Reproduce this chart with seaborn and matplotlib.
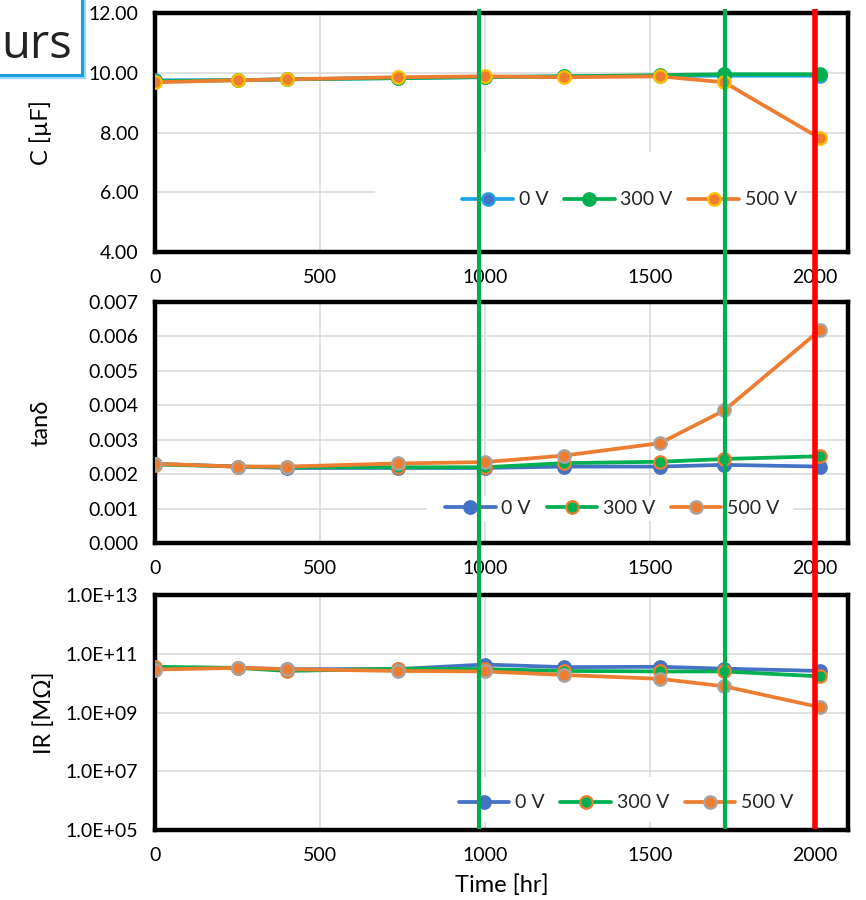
import numpy as np
import pandas as pd
import matplotlib
matplotlib.use("Agg")
import matplotlib.pyplot as plt
import matplotlib.transforms as mtransforms
from matplotlib.patches import Rectangle
from matplotlib.lines import Line2D
from matplotlib.ticker import FuncFormatter, FixedLocator
import seaborn as sns

# ---------------- data ----------------
time_hr = [0, 250, 400, 735, 1000, 1240, 1530, 1725, 2016]
series_names = ["0 V", "300 V", "500 V"]

cap_0v = [9.75, 9.75, 9.78, 9.82, 9.85, 9.88, 9.90, 9.90, 9.90]
cap_300v = [9.72, 9.75, 9.78, 9.82, 9.86, 9.88, 9.92, 9.95, 9.95]
cap_500v = [9.68, 9.75, 9.78, 9.85, 9.88, 9.85, 9.88, 9.68, 7.80]

tan_0v = [0.00230, 0.00222, 0.00218, 0.00218, 0.00218, 0.00222, 0.00222, 0.00227, 0.00222]
tan_300v = [0.00228, 0.00222, 0.00220, 0.00220, 0.00220, 0.00232, 0.00236, 0.00244, 0.00252]
tan_500v = [0.00230, 0.00222, 0.00222, 0.00231, 0.00235, 0.00254, 0.00290, 0.00385, 0.00619]

ir_0v = [3.2e10, 3.3e10, 3.0e10, 3.0e10, 4.3e10, 3.5e10, 3.6e10, 3.1e10, 2.6e10]
ir_300v = [3.6e10, 3.3e10, 2.6e10, 3.1e10, 3.0e10, 2.6e10, 2.5e10, 2.5e10, 1.7e10]
ir_500v = [2.9e10, 3.3e10, 3.0e10, 2.6e10, 2.5e10, 1.9e10, 1.4e10, 7.8e9, 1.5e9]

x_ticks = [0, 500, 1000, 1500, 2000]
cap_ticks = [4, 6, 8, 10, 12]
tan_ticks = [0.000, 0.001, 0.002, 0.003, 0.004, 0.005, 0.006, 0.007]
ir_ticks = [1e5, 1e7, 1e9, 1e11, 1e13]

marker_times = [983, 1728, 2000]
marker_colors = ["#00B050", "#00B050", "#FF0000"]
marker_widths = [3.0, 3.0, 4.0]

# ---------------- style ----------------
sns.set_theme(style="white")
plt.rcParams["font.family"] = ["Lato", "DejaVu Sans"]

fig = plt.figure(figsize=(8.66, 9.0), dpi=100)
fig.patch.set_facecolor("white")

L, R = 155 / 866, 848 / 866
def box(top_px, bot_px):
    return [L, 1 - bot_px / 900, R - L, (bot_px - top_px) / 900]

ax1 = fig.add_axes(box(13, 252))
ax2 = fig.add_axes(box(302, 543))
ax3 = fig.add_axes(box(595, 830))

styles_top = [
    dict(color="#1FA3E3", markerfacecolor="#4472C4", markeredgecolor="#1FA3E3"),
    dict(color="#00B050", markerfacecolor="#00B050", markeredgecolor="#00B050"),
    dict(color="#ED7D31", markerfacecolor="#ED7D31", markeredgecolor="#FFC000"),
]
styles_low = [
    dict(color="#4472C4", markerfacecolor="#4472C4", markeredgecolor="#4472C4"),
    dict(color="#00B050", markerfacecolor="#00B050", markeredgecolor="#ED7D31"),
    dict(color="#ED7D31", markerfacecolor="#ED7D31", markeredgecolor="#A5A5A5"),
]

panels = [
    (ax1, [cap_0v, cap_300v, cap_500v], styles_top, "C [µF]", -0.149),
    (ax2, [tan_0v, tan_300v, tan_500v], styles_low, "tanδ", -0.149),
    (ax3, [ir_0v, ir_300v, ir_500v], styles_low, "IR [MΩ]", -0.145),
]

# white legend backgrounds (axes fraction)
legend_boxes = [
    (0.317, 0.005, 0.93 - 0.317, 0.415),
    (0.393, 0.09, 0.92 - 0.393, 0.105),
    (0.41, 0.035, 0.945 - 0.41, 0.19),
]
legend_anchor = [(0.685, 0.218), (0.66, 0.145), (0.68, 0.115)]

for i, (ax, vals, styles, ylabel, lx) in enumerate(panels):
    ax.set_facecolor("white")
    for name, v, st in zip(series_names, vals, styles):
        df = pd.DataFrame({"Time": time_hr, "val": v})
        sns.lineplot(data=df, x="Time", y="val", ax=ax, label=name,
                     marker="o", markersize=9, markeredgewidth=1.6,
                     linewidth=2.7, zorder=4, **st)
    ax.set_xlim(0, 2100)
    ax.xaxis.set_major_locator(FixedLocator(x_ticks))
    ax.grid(True, which="major", color="#D9D9D9", linewidth=1.1, zorder=0)
    ax.set_axisbelow(True)
    for sp in ax.spines.values():
        sp.set_visible(True)
        sp.set_color("black")
        sp.set_linewidth(3.2)
    ax.tick_params(axis="both", which="both", length=0, labelsize=14, colors="black")
    ax.tick_params(axis="x", pad=12)
    ax.tick_params(axis="y", pad=12)
    ax.set_xlabel("")
    ax.set_ylabel(ylabel, fontsize=17, color="black")
    ax.yaxis.set_label_coords(lx, 0.5)
    bx = legend_boxes[i]
    ax.add_patch(Rectangle((bx[0], bx[1]), bx[2], bx[3], transform=ax.transAxes,
                           facecolor="white", edgecolor="none", zorder=1))
    leg = ax.legend(loc="center", bbox_to_anchor=legend_anchor[i], ncol=3,
                    frameon=False, fontsize=14, handlelength=2.6,
                    handletextpad=0.3, columnspacing=0.8, borderaxespad=0)
    leg.set_zorder(5)

ax1.set_ylim(4, 12)
ax1.yaxis.set_major_locator(FixedLocator(cap_ticks))
ax1.yaxis.set_major_formatter(FuncFormatter(lambda v, p: f"{v:.2f}"))

ax2.set_ylim(0, 0.007)
ax2.yaxis.set_major_locator(FixedLocator(tan_ticks))
ax2.yaxis.set_major_formatter(FuncFormatter(lambda v, p: f"{v:.3f}"))

ax3.set_yscale("log")
ax3.set_ylim(1e5, 1e13)
ax3.yaxis.set_major_locator(FixedLocator(ir_ticks))
ax3.yaxis.set_minor_locator(FixedLocator([]))
def sci(v, p):
    e = int(round(np.log10(v)))
    return f"1.0E+{e:02d}"
ax3.yaxis.set_major_formatter(FuncFormatter(sci))
ax3.set_xlabel("Time [hr]", fontsize=17, color="black")
ax3.xaxis.set_label_coords(0.5, -0.19)

# overlay vertical marker lines spanning all panels
tr = mtransforms.blended_transform_factory(ax3.transData, fig.transFigure)
for t, c, w in zip(marker_times, marker_colors, marker_widths):
    fig.add_artist(Line2D([t, t], [1 - 829 / 900, 1 - 9 / 900], transform=tr,
                          color=c, linewidth=w, zorder=20, solid_capstyle="butt"))

# cropped title box in top-left corner
fig.add_artist(Rectangle((-0.02, 1 - 75 / 900), 0.02 + 82 / 866, 80 / 900,
                         transform=fig.transFigure, facecolor="none",
                         edgecolor="#9ED8F5", linewidth=6, zorder=9))
fig.add_artist(Rectangle((-0.02, 1 - 75 / 900), 0.02 + 82 / 866, 80 / 900,
                         transform=fig.transFigure, facecolor="white",
                         edgecolor="#1BA1E2", linewidth=2.2, zorder=10))
fig.text(0.002, 1 - 58 / 900, "urs", fontsize=34, family=["Open Sans", "DejaVu Sans"],
         color="#222222", va="baseline", ha="left", zorder=11)

fig.savefig("out.png", dpi=100, facecolor="white")
